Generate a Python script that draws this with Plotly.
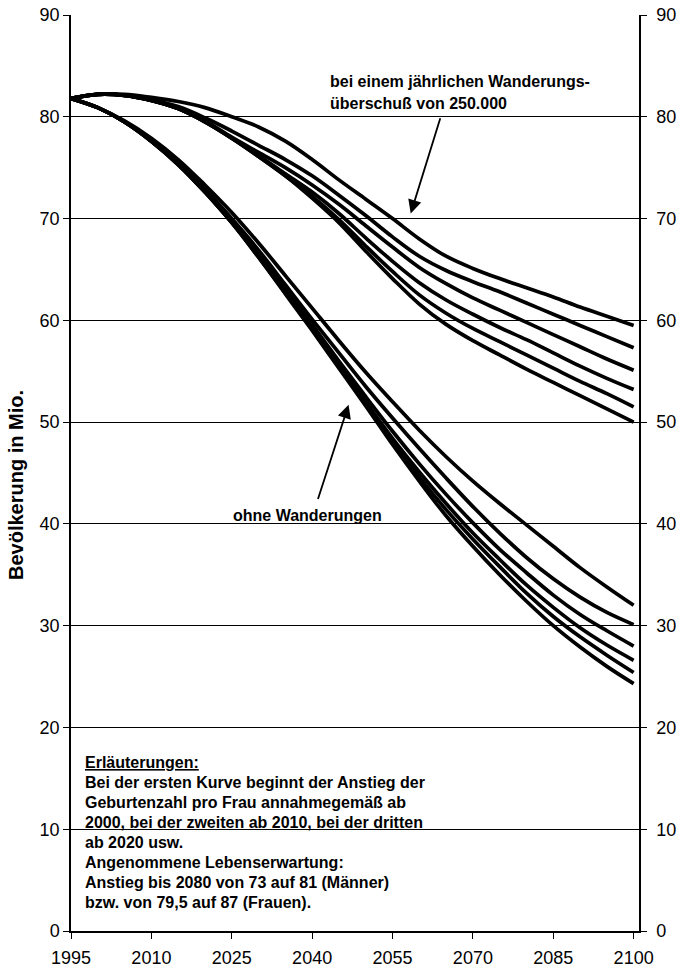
import plotly.graph_objects as go

years = [1995, 2000, 2005, 2010, 2015, 2020, 2025, 2030, 2035, 2040, 2045,
         2050, 2055, 2060, 2065, 2070, 2075, 2080, 2085, 2090, 2095, 2100]

# with annual net migration of 250,000 (fertility rise from 2000, 2010, 2020, ...)
mig_1 = [81.8, 82.2, 82.2, 81.9, 81.5, 80.9, 80.0, 79.0, 77.6, 75.8, 73.8,
         71.9, 70.0, 68.0, 66.3, 65.1, 64.1, 63.2, 62.3, 61.3, 60.4, 59.5]
mig_2 = [81.8, 82.2, 82.1, 81.7, 81.0, 79.9, 78.6, 77.2, 75.8, 74.2, 72.3,
         70.3, 68.2, 66.3, 64.9, 63.8, 62.8, 61.7, 60.6, 59.5, 58.4, 57.3]
mig_3 = [81.8, 82.2, 82.1, 81.6, 80.8, 79.6, 78.0, 76.5, 75.0, 73.3, 71.4,
         69.3, 67.2, 65.2, 63.6, 62.2, 61.0, 59.8, 58.6, 57.4, 56.2, 55.1]
mig_4 = [81.8, 82.2, 82.1, 81.6, 80.8, 79.5, 77.9, 76.2, 74.4, 72.6, 70.5,
         68.1, 65.8, 63.7, 62.0, 60.6, 59.3, 58.1, 56.8, 55.5, 54.3, 53.2]
mig_5 = [81.8, 82.2, 82.1, 81.6, 80.8, 79.5, 77.9, 76.1, 74.2, 72.2, 69.9,
         67.3, 64.8, 62.5, 60.7, 59.2, 57.9, 56.6, 55.3, 54.0, 52.8, 51.5]
mig_6 = [81.8, 82.2, 82.1, 81.6, 80.8, 79.5, 77.9, 76.1, 74.2, 72.0, 69.6,
         66.8, 64.1, 61.6, 59.6, 58.0, 56.6, 55.2, 53.9, 52.6, 51.3, 50.0]

# without migration
nomig_1 = [81.8, 80.9, 79.6, 77.9, 75.8, 73.3, 70.6, 67.6, 64.4, 61.2, 58.0,
           54.9, 52.0, 49.2, 46.6, 44.2, 42.0, 39.9, 37.8, 35.7, 33.8, 32.0]
nomig_2 = [81.8, 80.9, 79.5, 77.7, 75.5, 72.9, 70.0, 66.9, 63.5, 60.1, 56.8,
           53.5, 50.4, 47.4, 44.5, 41.7, 39.1, 36.7, 34.6, 32.8, 31.3, 30.1]
nomig_3 = [81.8, 80.9, 79.5, 77.6, 75.4, 72.7, 69.8, 66.6, 63.1, 59.6, 56.0,
           52.5, 49.1, 45.9, 42.9, 40.1, 37.5, 35.2, 33.0, 31.1, 29.5, 28.0]
nomig_4 = [81.8, 80.9, 79.5, 77.6, 75.3, 72.6, 69.6, 66.4, 62.9, 59.3, 55.6,
           52.0, 48.4, 45.1, 42.0, 39.1, 36.5, 34.0, 31.8, 29.8, 28.1, 26.6]
nomig_5 = [81.8, 80.9, 79.5, 77.6, 75.3, 72.6, 69.6, 66.2, 62.7, 59.1, 55.4,
           51.8, 48.1, 44.6, 41.4, 38.5, 35.8, 33.2, 30.9, 28.9, 27.1, 25.4]
nomig_6 = [81.8, 80.9, 79.5, 77.6, 75.3, 72.6, 69.6, 66.2, 62.6, 59.0, 55.3,
           51.6, 47.8, 44.2, 40.8, 37.8, 35.0, 32.4, 30.0, 27.9, 26.0, 24.3]

x_ticks = [1995, 2010, 2025, 2040, 2055, 2070, 2085, 2100]
y_ticks = [0, 10, 20, 30, 40, 50, 60, 70, 80, 90]

label_mig = ["bei einem jährlichen Wanderungs-", "überschuß von 250.000"]
label_nomig = "ohne Wanderungen"
notes = [
    "<u>Erläuterungen:</u>",
    "Bei der ersten Kurve beginnt der Anstieg der",
    "Geburtenzahl pro Frau annahmegemäß ab",
    "2000, bei der zweiten ab 2010, bei der dritten",
    "ab 2020 usw.",
    "Angenommene Lebenserwartung:",
    "Anstieg bis 2080 von 73 auf 81 (Männer)",
    "bzw. von 79,5 auf 87 (Frauen).",
]
y_title = "Bevölkerung in Mio."

FONT = "Liberation Sans, Arial, sans-serif"

fig = go.Figure()
for s in [mig_1, mig_2, mig_3, mig_4, mig_5, mig_6]:
    fig.add_trace(go.Scatter(x=years, y=s, mode="lines",
                             line=dict(color="black", width=3.7, shape="spline", smoothing=1.0),
                             showlegend=False, hoverinfo="skip"))
for s in [nomig_1, nomig_2, nomig_3, nomig_4, nomig_5, nomig_6]:
    fig.add_trace(go.Scatter(x=years, y=s, mode="lines",
                             line=dict(color="black", width=3.7, shape="spline", smoothing=1.0),
                             showlegend=False, hoverinfo="skip"))
# carrier for the right-hand axis
fig.add_trace(go.Scatter(x=years, y=mig_1, yaxis="y2", mode="lines",
                         line=dict(width=0), opacity=0, showlegend=False, hoverinfo="skip"))

L, R, T, B = 71, 40, 15, 40
W, H = 679, 971
pw, ph = W - L - R, H - T - B

def px(xp):
    return (xp - L) / pw

def py(yp):
    return (H - B - yp) / ph

axis_common = dict(showgrid=False, zeroline=False, showline=True, linecolor="black",
                   linewidth=1.5, ticks="outside", ticklen=6, tickwidth=1.2,
                   tickcolor="black", automargin=False,
                   tickfont=dict(family=FONT, size=18, color="black"))

fig.update_layout(
    width=W, height=H,
    margin=dict(l=L, r=R, t=T, b=B, pad=0),
    paper_bgcolor="white", plot_bgcolor="white",
    font=dict(family=FONT, color="black"),
    xaxis=dict(range=[1995, 2101], tickvals=x_ticks, ticklabelstandoff=4, **axis_common),
    yaxis=dict(range=[0, 90], tickvals=y_ticks, **{**axis_common, "showgrid": True},
               gridcolor="black", gridwidth=1),
    yaxis2=dict(range=[0, 90], tickvals=y_ticks, overlaying="y", side="right",
                ticklabelstandoff=6, **axis_common),
)

ann = []
ann.append(dict(x=px(16), y=py(485), xref="paper", yref="paper", text="<b>%s</b>" % y_title,
                textangle=-90, showarrow=False, font=dict(family=FONT, size=20, color="black"),
                xanchor="center", yanchor="middle"))
for i, t in enumerate(label_mig):
    ann.append(dict(x=px(328), y=py(82 + 21 * i), xref="paper", yref="paper",
                    text="<b>%s</b>" % t, showarrow=False, xanchor="left", yanchor="middle",
                    font=dict(family=FONT, size=16, color="black")))
ann.append(dict(x=px(231), y=py(515), xref="paper", yref="paper",
                text="<b>%s</b>" % label_nomig, showarrow=False, xanchor="left", yanchor="middle",
                font=dict(family=FONT, size=16, color="black")))
for i, t in enumerate(notes):
    ann.append(dict(x=px(83), y=py(762.5 + 20.0 * i), xref="paper", yref="paper",
                    text="<b>%s</b>" % t, showarrow=False, xanchor="left", yanchor="middle",
                    font=dict(family=FONT, size=16, color="black")))
# arrows
ann.append(dict(x=2058.4, y=70.5, xref="x", yref="y", ax=2064.0, ay=80.0, axref="x", ayref="y",
                text="", showarrow=True, arrowhead=2, arrowsize=1.5, arrowwidth=1.8,
                arrowcolor="black", standoff=0))
ann.append(dict(x=2046.8, y=51.7, xref="x", yref="y", ax=2041.0, ay=42.3, axref="x", ayref="y",
                text="", showarrow=True, arrowhead=2, arrowsize=1.5, arrowwidth=1.8,
                arrowcolor="black", standoff=0))
fig.update_layout(annotations=ann)

fig.write_html("out.html", config={"displayModeBar": False},
               post_script="document.body.style.margin='0px';document.body.style.overflow='hidden';")
